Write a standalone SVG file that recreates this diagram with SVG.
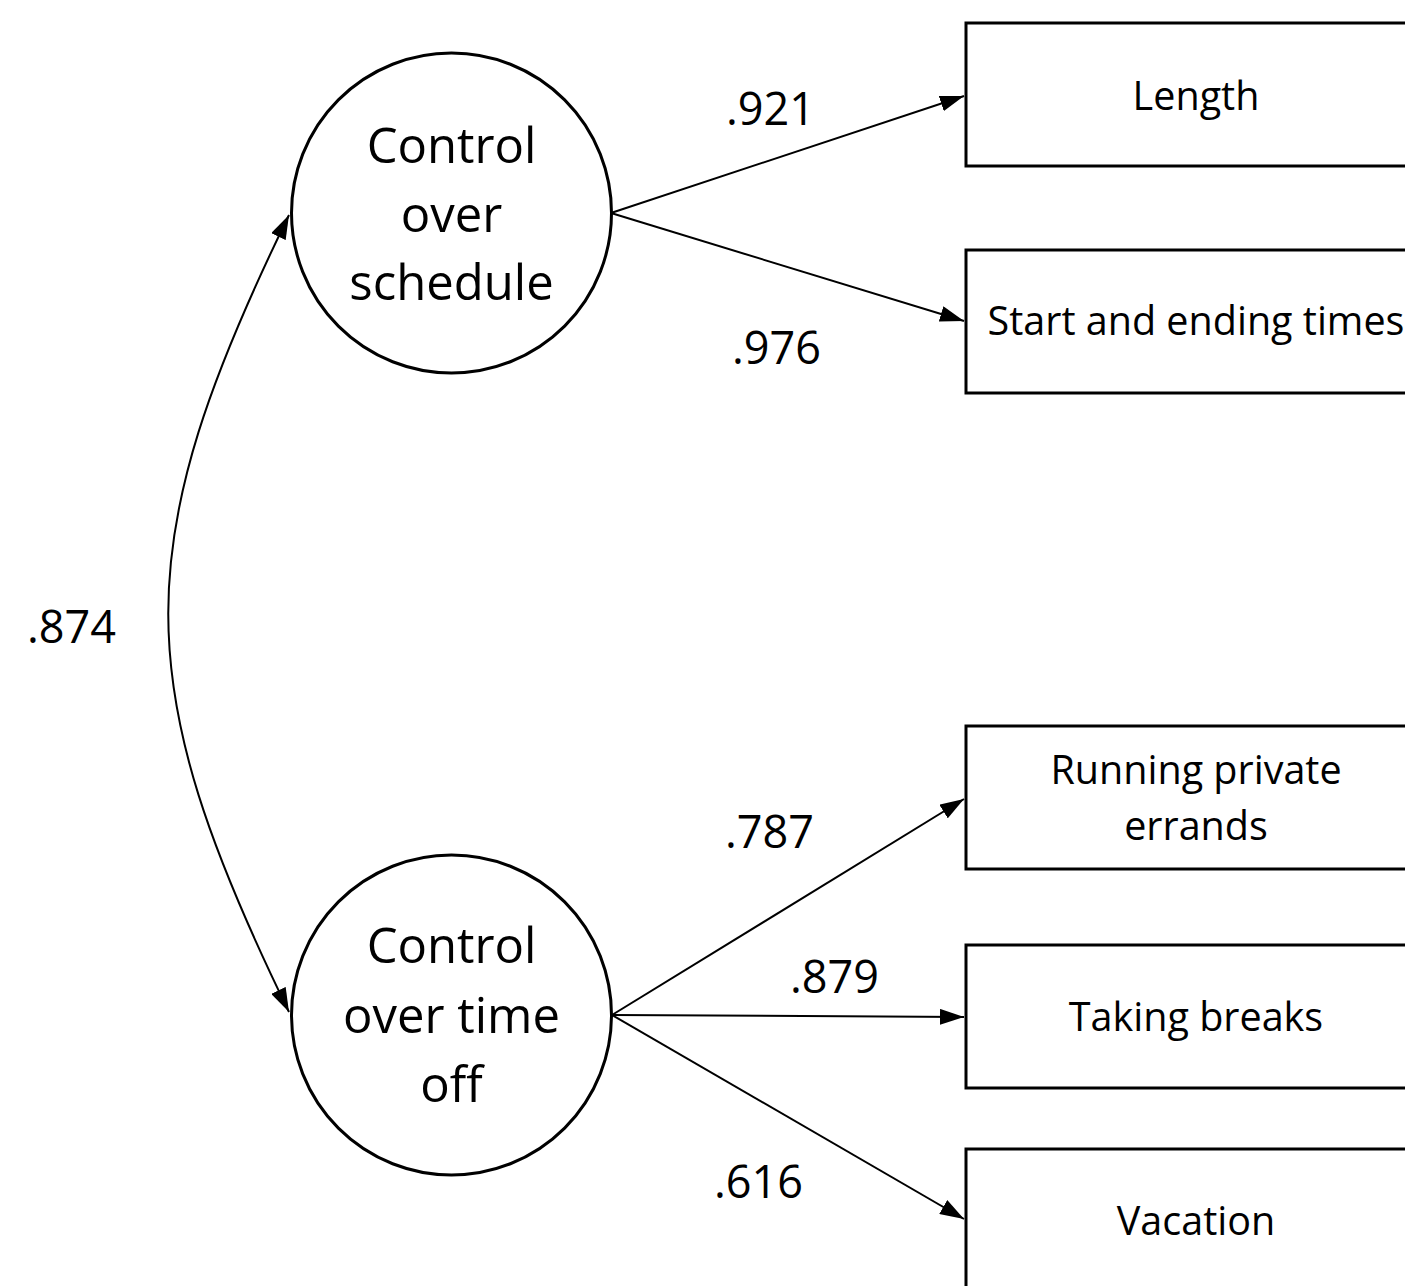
<svg xmlns="http://www.w3.org/2000/svg" width="1405" height="1286" viewBox="0 0 1405 1286">
<style>
  .latent { fill: #fff; stroke: #000; stroke-width: 3; }
  .obs { fill: #fff; stroke: #000; stroke-width: 3; }
  .conn { fill: none; stroke: #000; stroke-width: 2; }
  .ct { font-family: "Open Sans", "Noto Sans", sans-serif; font-size: 49px; text-anchor: middle; fill: #000; }
  .bt { font-family: "Open Sans", "Noto Sans", sans-serif; font-size: 39.5px; text-anchor: middle; fill: #000; }
  .lbl { font-family: "Open Sans", "Noto Sans", sans-serif; font-size: 45px; fill: #000; }
</style>
<defs>
  <marker id="arr" viewBox="0 0 24 16" refX="24" refY="8" markerWidth="24" markerHeight="16" markerUnits="userSpaceOnUse" orient="auto-start-reverse">
    <path d="M0,0 L24,8 L0,16 Z" fill="#000"/>
  </marker>
</defs>
<rect width="1405" height="1286" fill="#fff"/>
<g id="connectors">
  <path class="conn" d="M289,215 C128,545 128,682 289,1012" marker-start="url(#arr)" marker-end="url(#arr)"/>
  <line class="conn" x1="611" y1="213" x2="964" y2="96" marker-end="url(#arr)"/>
  <line class="conn" x1="611" y1="213" x2="964" y2="321" marker-end="url(#arr)"/>
  <line class="conn" x1="612" y1="1015" x2="964" y2="799" marker-end="url(#arr)"/>
  <line class="conn" x1="612" y1="1015" x2="964" y2="1017" marker-end="url(#arr)"/>
  <line class="conn" x1="612" y1="1015" x2="964" y2="1219" marker-end="url(#arr)"/>
  <text class="lbl" x="726" y="125">.921</text>
  <text class="lbl" x="732" y="364">.976</text>
  <text class="lbl" x="27" y="643">.874</text>
  <text class="lbl" x="725" y="848">.787</text>
  <text class="lbl" x="790" y="993">.879</text>
  <text class="lbl" x="714" y="1198">.616</text>
</g>
<g id="control-schedule">
  <circle class="latent" cx="451.5" cy="213" r="160"/>
  <text class="ct" x="451.5" y="163">Control</text>
  <text class="ct" x="451.5" y="232">over</text>
  <text class="ct" x="451.5" y="300">schedule</text>
</g>
<g id="control-timeoff">
  <circle class="latent" cx="451.5" cy="1015" r="160"/>
  <text class="ct" x="451.5" y="963">Control</text>
  <text class="ct" x="451.5" y="1033">over time</text>
  <text class="ct" x="451.5" y="1102">off</text>
</g>
<g id="length">
  <rect class="obs" x="966" y="23" width="480" height="143"/>
  <text class="bt" x="1196" y="110">Length</text>
</g>
<g id="start-ending">
  <rect class="obs" x="966" y="250" width="480" height="143"/>
  <text class="bt" x="1196" y="335">Start and ending times</text>
</g>
<g id="errands">
  <rect class="obs" x="966" y="726" width="480" height="143"/>
  <text class="bt" x="1196" y="784">Running private</text>
  <text class="bt" x="1196" y="840">errands</text>
</g>
<g id="breaks">
  <rect class="obs" x="966" y="945" width="480" height="143"/>
  <text class="bt" x="1196" y="1031">Taking breaks</text>
</g>
<g id="vacation">
  <rect class="obs" x="966" y="1149" width="480" height="143"/>
  <text class="bt" x="1196" y="1235">Vacation</text>
</g>
</svg>
